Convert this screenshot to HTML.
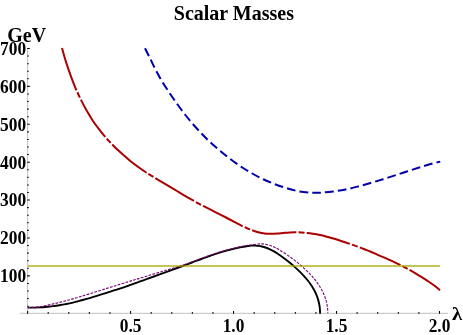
<!DOCTYPE html>
<html><head><meta charset="utf-8"><style>
html,body{margin:0;padding:0;background:#fff;}
svg{display:block;}
svg{will-change:transform;opacity:0.9999;}
text{font-family:"Liberation Serif",serif;font-weight:bold;fill:#000;}
</style></head><body>
<svg width="463" height="335" viewBox="0 0 463 335">
<rect width="463" height="335" fill="#fff"/>
<g fill="none" stroke-linecap="butt" stroke-linejoin="round">
<path d="M27.60 307.60C28.75 307.60 32.31 307.63 34.50 307.60C36.69 307.57 38.67 307.53 40.75 307.40C42.83 307.27 44.92 307.02 47.00 306.80C49.08 306.58 51.17 306.37 53.25 306.10C55.33 305.83 57.42 305.53 59.50 305.20C61.58 304.87 63.67 304.50 65.75 304.10C67.83 303.70 69.62 303.37 72.00 302.80C74.38 302.23 76.92 301.53 80.00 300.70C83.08 299.87 86.67 298.93 90.50 297.80C94.33 296.68 98.83 295.26 103.00 293.95C107.17 292.64 111.33 291.31 115.50 289.95C119.67 288.59 123.88 287.22 128.00 285.80C132.12 284.38 137.17 282.55 140.25 281.45C143.33 280.35 143.38 280.33 146.50 279.20C149.62 278.07 154.83 276.17 159.00 274.65C163.17 273.13 167.33 271.62 171.50 270.10C175.67 268.58 180.58 266.77 184.00 265.50C187.42 264.23 188.92 263.67 192.00 262.50C195.08 261.33 198.67 259.90 202.50 258.50C206.33 257.10 210.83 255.45 215.00 254.10C219.17 252.75 223.33 251.52 227.50 250.40C231.67 249.28 236.58 248.13 240.00 247.40C243.42 246.67 245.96 246.30 248.00 246.00C250.04 245.70 251.28 245.66 252.25 245.58C253.22 245.51 253.28 245.55 253.80 245.55C254.33 245.55 254.62 245.54 255.40 245.59C256.18 245.64 257.40 245.72 258.50 245.87C259.60 246.02 260.83 246.24 262.00 246.51C263.17 246.78 264.25 247.08 265.50 247.51C266.75 247.94 268.17 248.48 269.50 249.08C270.83 249.68 272.25 250.40 273.50 251.10C274.75 251.80 275.35 252.15 277.00 253.26C278.65 254.37 281.34 256.24 283.38 257.76C285.42 259.27 287.37 260.82 289.24 262.35C291.11 263.88 292.90 265.40 294.60 266.91C296.30 268.42 297.91 269.92 299.44 271.40C300.97 272.89 302.42 274.36 303.78 275.84C305.14 277.32 306.41 278.78 307.60 280.26C308.79 281.74 309.90 283.22 310.92 284.71C311.94 286.21 312.87 287.71 313.72 289.24C314.57 290.76 315.34 292.30 316.02 293.87C316.70 295.43 317.29 297.01 317.80 298.60C318.31 300.20 318.74 301.81 319.08 303.44C319.42 305.06 319.67 306.70 319.84 308.35C320.01 309.99 320.05 312.37 320.10 313.30C320.15 314.23 320.12 313.80 320.12 313.90" stroke="#000" stroke-width="1.9"/>
<path d="M62.00 48.00C62.50 49.80 63.88 55.12 65.00 58.80C66.12 62.48 67.58 66.72 68.75 70.10C69.92 73.48 70.75 75.82 72.00 79.10C73.25 82.38 74.71 86.25 76.25 89.80C77.79 93.35 79.54 96.98 81.25 100.40C82.96 103.82 84.62 107.00 86.50 110.30C88.38 113.60 90.46 117.10 92.50 120.20C94.54 123.30 96.67 126.17 98.75 128.90C100.83 131.63 102.92 134.17 105.00 136.60C107.08 139.03 109.17 141.32 111.25 143.50C113.33 145.68 114.38 146.82 117.50 149.70C120.62 152.57 125.83 157.37 130.00 160.75C134.17 164.13 139.17 167.64 142.50 170.00C145.83 172.36 146.67 172.83 150.00 174.90C153.33 176.97 158.32 179.90 162.50 182.40C166.68 184.90 170.92 187.40 175.10 189.90C179.28 192.40 183.43 195.00 187.60 197.40C191.77 199.80 195.95 202.10 200.10 204.30C204.25 206.50 208.33 208.48 212.50 210.60C216.67 212.72 220.92 214.82 225.10 217.00C229.28 219.18 234.78 222.22 237.60 223.70C240.42 225.18 240.48 225.18 242.00 225.90C243.52 226.62 245.03 227.28 246.70 228.00C248.37 228.72 250.08 229.48 252.00 230.20C253.92 230.92 256.07 231.73 258.20 232.30C260.32 232.87 262.62 233.35 264.75 233.60C266.88 233.85 268.88 233.82 271.00 233.80C273.12 233.78 275.42 233.65 277.50 233.50C279.58 233.35 281.46 233.08 283.50 232.90C285.54 232.72 287.50 232.50 289.75 232.40C292.00 232.30 294.33 232.22 297.00 232.30C299.67 232.38 303.08 232.65 305.75 232.90C308.42 233.15 310.62 233.44 313.00 233.80C315.38 234.16 317.83 234.61 320.00 235.05C322.17 235.49 323.92 235.92 326.00 236.45C328.08 236.98 330.33 237.62 332.50 238.25C334.67 238.88 336.92 239.59 339.00 240.25C341.08 240.91 341.70 241.07 345.00 242.20C348.30 243.32 355.45 245.78 358.80 247.00C362.15 248.22 363.02 248.67 365.10 249.50C367.18 250.33 369.22 251.12 371.30 252.00C373.38 252.88 375.50 253.90 377.60 254.80C379.70 255.70 381.82 256.50 383.90 257.40C385.98 258.30 388.03 259.25 390.10 260.20C392.17 261.15 394.75 262.36 396.30 263.10C397.85 263.84 398.08 263.98 399.40 264.65C400.72 265.32 402.63 266.28 404.20 267.10C405.77 267.92 406.98 268.55 408.80 269.55C410.62 270.55 413.02 271.88 415.10 273.10C417.18 274.32 419.22 275.55 421.30 276.85C423.38 278.15 425.50 279.49 427.60 280.90C429.70 282.31 431.82 283.73 433.90 285.30C435.98 286.87 439.07 289.47 440.10 290.30" stroke="#aa0000" stroke-width="2" stroke-dasharray="44.7 2.2 5.9 2.2"/>
<path d="M145.00 48.25C145.83 49.92 148.25 54.71 150.00 58.25C151.75 61.79 153.50 65.67 155.50 69.50C157.50 73.33 159.71 77.42 162.00 81.25C164.29 85.08 166.75 88.75 169.25 92.50C171.75 96.25 174.38 100.08 177.00 103.75C179.62 107.42 182.29 111.04 185.00 114.50C187.71 117.96 190.46 121.29 193.25 124.50C196.04 127.71 198.88 130.75 201.75 133.75C204.62 136.75 207.46 139.67 210.50 142.50C213.54 145.33 216.75 148.04 220.00 150.75C223.25 153.46 226.54 156.12 230.00 158.75C233.46 161.38 237.12 164.08 240.75 166.50C244.38 168.92 248.00 171.12 251.75 173.25C255.50 175.38 259.38 177.42 263.25 179.25C267.12 181.08 271.04 182.75 275.00 184.25C278.96 185.75 282.92 187.04 287.00 188.25C291.08 189.46 295.33 190.75 299.50 191.50C303.67 192.25 308.58 192.54 312.00 192.75C315.42 192.96 316.50 192.96 320.00 192.75C323.50 192.54 328.75 192.04 333.00 191.50C337.25 190.96 341.33 190.33 345.50 189.50C349.67 188.67 353.83 187.58 358.00 186.50C362.17 185.42 366.33 184.21 370.50 183.00C374.67 181.79 378.92 180.52 383.00 179.25C387.08 177.98 390.92 176.73 395.00 175.40C399.08 174.07 403.33 172.61 407.50 171.25C411.67 169.89 415.83 168.54 420.00 167.25C424.17 165.96 429.12 164.44 432.50 163.50C435.88 162.56 438.96 161.92 440.25 161.60" stroke="#0000aa" stroke-width="2" stroke-dasharray="8.75 4.09"/>
<path d="M27.60 307.50C28.75 307.47 32.31 307.45 34.50 307.30C36.69 307.15 38.67 306.92 40.75 306.60C42.83 306.28 44.92 305.85 47.00 305.40C49.08 304.95 51.17 304.40 53.25 303.90C55.33 303.40 57.42 302.92 59.50 302.40C61.58 301.88 63.67 301.35 65.75 300.80C67.83 300.25 69.62 299.78 72.00 299.10C74.38 298.43 76.92 297.68 80.00 296.75C83.08 295.82 86.67 294.69 90.50 293.50C94.33 292.31 98.83 290.90 103.00 289.60C107.17 288.30 111.33 286.99 115.50 285.70C119.67 284.41 124.58 282.90 128.00 281.85C131.42 280.80 132.92 280.34 136.00 279.40C139.08 278.46 142.67 277.37 146.50 276.20C150.33 275.03 154.83 273.67 159.00 272.40C163.17 271.13 167.33 269.88 171.50 268.60C175.67 267.32 180.58 265.80 184.00 264.70C187.42 263.60 188.92 263.12 192.00 262.00C195.08 260.88 198.67 259.41 202.50 258.00C206.33 256.59 210.83 254.91 215.00 253.55C219.17 252.19 223.33 250.97 227.50 249.85C231.67 248.72 236.92 247.50 240.00 246.80C243.08 246.10 243.96 246.00 246.00 245.65C248.04 245.30 250.17 244.97 252.25 244.70C254.33 244.42 257.12 244.15 258.50 244.00C259.88 243.85 259.83 243.82 260.50 243.80C261.17 243.78 261.50 243.77 262.50 243.87C263.50 243.97 265.10 244.12 266.50 244.42C267.90 244.72 269.48 245.16 270.90 245.66C272.32 246.16 273.57 246.69 275.00 247.42C276.43 248.15 277.54 248.83 279.50 250.04C281.46 251.24 284.45 253.06 286.79 254.63C289.12 256.21 291.35 257.87 293.49 259.50C295.63 261.13 297.67 262.78 299.61 264.41C301.55 266.04 303.41 267.67 305.14 269.28C306.88 270.89 308.53 272.49 310.04 274.08C311.55 275.67 312.91 277.24 314.21 278.82C315.51 280.41 316.72 281.98 317.83 283.57C318.94 285.16 319.96 286.74 320.89 288.35C321.82 289.96 322.65 291.57 323.40 293.20C324.14 294.84 324.79 296.49 325.35 298.15C325.90 299.81 326.37 301.49 326.74 303.17C327.11 304.86 327.39 306.56 327.57 308.27C327.76 309.97 327.80 312.54 327.85 313.40" stroke="#780078" stroke-width="1.1" stroke-dasharray="2.75 1.3"/>
<path d="M27.6 266H440.1" stroke="#a8a600" stroke-opacity="0.665" stroke-width="2" shape-rendering="crispEdges"/>
<path d="M19.7 313.3H448.2M27.6 48.5V313.7" stroke="#808080" stroke-width="0.5"/>
<path d="M27.60 313.70v-2.60M48.20 313.70v-1.60M68.79 313.70v-1.60M89.38 313.70v-1.60M109.98 313.70v-1.60M130.57 313.70v-2.60M151.17 313.70v-1.60M171.76 313.70v-1.60M192.36 313.70v-1.60M212.95 313.70v-1.60M233.55 313.70v-2.60M254.14 313.70v-1.60M274.74 313.70v-1.60M295.34 313.70v-1.60M315.93 313.70v-1.60M336.53 313.70v-2.60M357.12 313.70v-1.60M377.71 313.70v-1.60M398.31 313.70v-1.60M418.90 313.70v-1.60M439.50 313.70v-2.60M27.20 306.16h1.60M27.20 298.58h1.60M27.20 291.00h1.60M27.20 283.43h1.60M27.20 275.85h2.60M27.20 268.27h1.60M27.20 260.69h1.60M27.20 253.11h1.60M27.20 245.53h1.60M27.20 237.95h2.60M27.20 230.38h1.60M27.20 222.80h1.60M27.20 215.22h1.60M27.20 207.64h1.60M27.20 200.06h2.60M27.20 192.48h1.60M27.20 184.90h1.60M27.20 177.33h1.60M27.20 169.75h1.60M27.20 162.17h2.60M27.20 154.59h1.60M27.20 147.01h1.60M27.20 139.43h1.60M27.20 131.85h1.60M27.20 124.28h2.60M27.20 116.70h1.60M27.20 109.12h1.60M27.20 101.54h1.60M27.20 93.96h1.60M27.20 86.38h2.60M27.20 78.80h1.60M27.20 71.22h1.60M27.20 63.65h1.60M27.20 56.07h1.60M27.20 48.49h2.60" stroke="#000" stroke-width="1.05"/>
</g>
<text x="233.9" y="19.5" font-size="20" text-anchor="middle">Scalar Masses</text>
<text x="7.3" y="41.5" font-size="20">GeV</text>
<text transform="translate(26.2 282.20) scale(1 1.085)" font-size="17.4" text-anchor="end">100</text>
<text transform="translate(26.2 244.30) scale(1 1.085)" font-size="17.4" text-anchor="end">200</text>
<text transform="translate(26.2 206.41) scale(1 1.085)" font-size="17.4" text-anchor="end">300</text>
<text transform="translate(26.2 168.52) scale(1 1.085)" font-size="17.4" text-anchor="end">400</text>
<text transform="translate(26.2 130.62) scale(1 1.085)" font-size="17.4" text-anchor="end">500</text>
<text transform="translate(26.2 92.73) scale(1 1.085)" font-size="17.4" text-anchor="end">600</text>
<text transform="translate(26.2 54.84) scale(1 1.085)" font-size="17.4" text-anchor="end">700</text>
<text transform="translate(130.57 331.7) scale(1 1.085)" font-size="17.4" text-anchor="middle">0.5</text>
<text transform="translate(233.55 331.7) scale(1 1.085)" font-size="17.4" text-anchor="middle">1.0</text>
<text transform="translate(336.52 331.7) scale(1 1.085)" font-size="17.4" text-anchor="middle">1.5</text>
<text transform="translate(439.50 331.7) scale(1 1.085)" font-size="17.4" text-anchor="middle">2.0</text>

<text transform="translate(451.9 320.4) scale(1.13 1)" font-size="18.3">λ</text>
</svg>
</body></html>
